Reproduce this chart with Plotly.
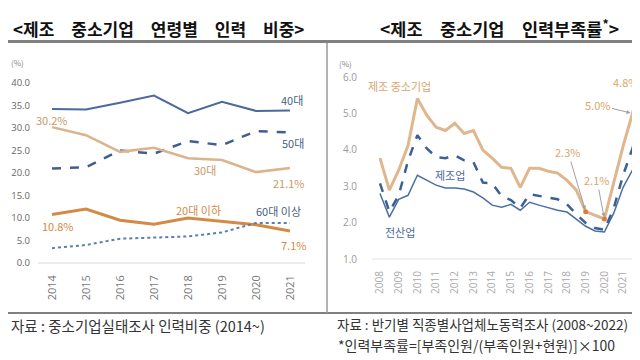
import plotly.graph_objects as go

# ---------------- data: left chart (age shares, %) ----------------
years_left = [2014, 2015, 2016, 2017, 2018, 2019, 2020, 2021]
age_40s = [34.2, 34.1, 35.6, 37.2, 33.3, 35.8, 33.8, 33.9]
age_50s = [21.0, 21.3, 25.0, 24.3, 27.1, 26.2, 29.3, 29.0]
age_30s = [30.2, 28.4, 24.7, 25.6, 23.3, 22.9, 20.2, 21.1]
age_20s = [10.8, 12.0, 9.5, 8.6, 10.0, 9.2, 8.5, 7.1]
age_60s = [3.3, 4.0, 5.4, 5.6, 5.9, 6.8, 8.9, 8.9]
left_yticks = [0, 5, 10, 15, 20, 25, 30, 35, 40]

# ---------------- data: right chart (shortage rate, %) ----------------
halves = ["2008H1", "2008H2", "2009H1", "2009H2", "2010H1", "2010H2", "2011H1", "2011H2",
          "2012H1", "2012H2", "2013H1", "2013H2", "2014H1", "2014H2", "2015H1", "2015H2",
          "2016H1", "2016H2", "2017H1", "2017H2", "2018H1", "2018H2", "2019H1", "2019H2",
          "2020H1", "2020H2", "2021H1", "2021H2", "2022H1"]
sme_mfg = [3.77, 2.89, 3.44, 4.12, 5.41, 4.95, 4.62, 4.53, 4.73, 4.45, 4.53, 3.99, 3.77, 3.52,
           3.49, 2.97, 3.49, 3.49, 3.41, 3.36, 3.16, 2.89, 2.3, 2.2, 2.1, 3.1, 4.1, 5.0, 5.9]
mfg = [3.08, 2.3, 2.75, 3.7, 4.4, 4.04, 3.8, 3.77, 3.85, 3.71, 3.66, 3.1, 3.08, 2.73,
       2.62, 2.4, 2.78, 2.73, 2.7, 2.64, 2.5, 2.23, 1.99, 1.85, 1.8, 2.4, 3.3, 4.04, 4.86]
all_ind = [2.8, 2.15, 2.64, 2.75, 3.3, 3.16, 3.03, 2.95, 2.95, 2.92, 2.84, 2.68, 2.48, 2.42,
           2.5, 2.34, 2.56, 2.48, 2.4, 2.34, 2.29, 2.1, 1.9, 1.77, 1.74, 2.26, 2.97, 3.44, 3.82]
right_years = list(range(2008, 2023))
right_yticks = [1, 2, 3, 4, 5, 6]
marked = ["2019H1", "2020H1"]

xr = [int(h[:4]) + (0.5 if h.endswith("H2") else 0.0) for h in halves]

W, H = 640, 360
OFF = 8  # page body margin offset
def px(x):
    return (x - OFF) / W
def py(y):
    return 1 - (y - OFF) / H

TAN = "#d9b48c"
ORANGE = "#d38a45"
FONT = "Noto Sans CJK KR"

fig = go.Figure()

# left traces
fig.add_trace(go.Scatter(x=years_left, y=age_40s, mode="lines", line=dict(color="#4a6a9c", width=2), xaxis="x", yaxis="y"))
fig.add_trace(go.Scatter(x=years_left, y=age_50s, mode="lines", line=dict(color="#3f5f8f", width=2.5, dash="dash"), xaxis="x", yaxis="y"))
fig.add_trace(go.Scatter(x=years_left, y=age_30s, mode="lines", line=dict(color=TAN, width=2.5), xaxis="x", yaxis="y"))
fig.add_trace(go.Scatter(x=years_left, y=age_20s, mode="lines", line=dict(color=ORANGE, width=3), xaxis="x", yaxis="y"))
fig.add_trace(go.Scatter(x=years_left, y=age_60s, mode="lines", line=dict(color="#5b7db0", width=2, dash="dot"), xaxis="x", yaxis="y"))

# right traces
fig.add_trace(go.Scatter(x=xr, y=all_ind, mode="lines", line=dict(color="#4b6fa3", width=1.5), xaxis="x2", yaxis="y2"))
fig.add_trace(go.Scatter(x=xr, y=mfg, mode="lines", line=dict(color="#3c6096", width=2.5, dash="dash"), xaxis="x2", yaxis="y2"))
fig.add_trace(go.Scatter(x=xr, y=sme_mfg, mode="lines", line=dict(color="#e0b68e", width=3), xaxis="x2", yaxis="y2"))
mi = [halves.index(m) for m in marked]
fig.add_trace(go.Scatter(x=[xr[i] for i in mi], y=[sme_mfg[i] for i in mi], mode="markers",
                         marker=dict(color="#e07a3a", size=5), xaxis="x2", yaxis="y2"))

# axes geometry (pixels in the screenshot)
left_x0, left_x1 = 31, 305
left_top, left_bot = 70, 263
lppu = (left_bot - 83) / 40.0
right_x0, right_x1 = 358, 648
r_top, r_bot = 65, 259
rppu = (r_bot - 77) / 5.0
xppy = 18.7
lx_start = 2014 - (52 - left_x0) / 34.0
rx_start = 2008 - (380 - right_x0) / xppy

fig.update_layout(
    template="none",
    width=W, height=H, autosize=False,
    margin=dict(l=0, r=0, t=0, b=0, pad=0),
    paper_bgcolor="white", plot_bgcolor="white",
    showlegend=False,
    font=dict(family=FONT, color="#333"),
    xaxis=dict(domain=[px(left_x0), px(left_x1)],
               range=[lx_start, lx_start + (left_x1 - left_x0) / 34.0],
               tickmode="array", tickvals=years_left, ticktext=[str(y) for y in years_left],
               tickangle=-90, tickfont=dict(size=11, color="#777", family="Open Sans"),
               showgrid=False, zeroline=False, showline=False,
               ticks="", ticklabelstandoff=9, anchor="y", automargin=False),
    yaxis=dict(domain=[py(left_bot), py(left_top)],
               range=[0, (left_bot - left_top) / lppu],
               tickmode="array", tickvals=left_yticks, ticktext=["%.1f" % v for v in left_yticks],
               tickfont=dict(size=9.5, color="#666", family="Open Sans"),
               showgrid=False, zeroline=False, showline=False, ticks="", anchor="x", automargin=False),
    xaxis2=dict(domain=[px(right_x0), px(right_x1)],
                range=[rx_start, rx_start + (right_x1 - right_x0) / xppy],
                tickmode="array", tickvals=right_years, ticktext=[str(y) for y in right_years],
                tickangle=-90, tickfont=dict(size=10, color="#aaa", family="Open Sans"),
                showgrid=False, zeroline=False, showline=False,
                ticks="", ticklabelstandoff=9, anchor="y2", automargin=False),
    yaxis2=dict(domain=[py(r_bot), py(r_top)],
                range=[1.0, 1.0 + (r_bot - r_top) / rppu],
                tickmode="array", tickvals=right_yticks, ticktext=["%.1f" % v for v in right_yticks],
                tickfont=dict(size=10, color="#999", family="Open Sans"),
                showgrid=False, zeroline=False, showline=False, ticks="", anchor="x2", automargin=False),
)

shapes = [
    dict(type="line", xref="paper", yref="paper", x0=px(0), x1=px(650), y0=py(41.5), y1=py(41.5), line=dict(color="#808080", width=3)),
    dict(type="line", xref="paper", yref="paper", x0=px(0), x1=px(650), y0=py(313), y1=py(313), line=dict(color="#808080", width=2)),
    dict(type="line", xref="paper", yref="paper", x0=px(327), x1=px(327), y0=py(43), y1=py(313), line=dict(color="#999", width=1.5)),
    # axis baselines
    dict(type="line", xref="paper", yref="paper", x0=px(38), x1=px(305), y0=py(left_bot), y1=py(left_bot), line=dict(color="#d9d9d9", width=1)),
    dict(type="line", xref="paper", yref="paper", x0=px(372), x1=px(650), y0=py(r_bot), y1=py(r_bot), line=dict(color="#e3e3e3", width=1)),
]
fig.update_layout(shapes=shapes)

ann = []
def txt(x, y, s, size=11, color="#333", bold=False, xanchor="center", family=FONT):
    ann.append(dict(x=px(x), y=py(y), xref="paper", yref="paper", text=("<b>%s</b>" % s) if bold else s,
                    showarrow=False, xanchor=xanchor, yanchor="middle",
                    font=dict(size=size, color=color, family=family)))

# titles
txt(158, 28, "&lt;제조\u3000중소기업\u3000연령별\u3000인력\u3000비중&gt;", size=17, color="#111", bold=True)
txt(499, 28, "&lt;제조\u3000중소기업\u3000인력부족률<sup>*</sup>&gt;", size=17.5, color="#111", bold=True)

# units
txt(17, 62, "(%)", size=8, color="#888")
txt(345, 63, "(%)", size=8, color="#888")

# left labels
txt(52, 120, "30.2%", size=11, color="#c99a66")
txt(292, 100, "40대", size=11, color="#4a5f80")
txt(293, 143, "50대", size=11, color="#4a5f80")
txt(205, 170, "30대", size=11, color="#c99a66")
txt(289, 183, "21.1%", size=11, color="#c99a66")
txt(198, 210, "20대 이하", size=11, color=ORANGE)
txt(278, 211, "60대 이상", size=11, color="#4a5f80")
txt(293, 245, "7.1%", size=11, color=ORANGE)
txt(58, 226, "10.8%", size=11, color=ORANGE)

# right labels
txt(399, 86, "제조 중소기업", size=11, color="#d9a66e")
txt(450, 175, "제조업", size=11, color="#4a6a9a")
txt(400, 232, "전산업", size=11, color="#4a6a9a")
txt(640, 82, "4.8%", size=11, color="#d9a66e", xanchor="right")

def arrow_to(xd, yd, tx, ty, s):
    pxx = right_x0 + (xd - rx_start) * xppy
    pyy = r_bot - (yd - 1.0) * rppu
    ann.append(dict(x=xd, y=yd, xref="x2", yref="y2", text=s, showarrow=True,
                    ax=tx - pxx, ay=ty - pyy, arrowhead=2, arrowsize=0.8, arrowwidth=1,
                    arrowcolor="#a0a0a0", standoff=2,
                    font=dict(size=11, color="#d9a66e", family=FONT)))

i23 = halves.index("2019H1")
i21 = halves.index("2020H1")
i50 = halves.index("2021H2")
arrow_to(xr[i23], sme_mfg[i23], 568, 152, "2.3%")
arrow_to(xr[i21], sme_mfg[i21], 597, 180, "2.1%")
arrow_to(xr[i50], sme_mfg[i50], 598, 105, "5.0%")

# footers
txt(9, 325, "자료 : 중소기업실태조사 인력비중 (2014~)", size=14.5, color="#333", xanchor="left")
txt(335, 324, "자료 : 반기별 직종별사업체노동력조사 (2008~2022)", size=13.5, color="#333", xanchor="left")
txt(336, 345, "*인력부족률=[부족인원/(부족인원+현원)]×100", size=14, color="#333", xanchor="left")

fig.update_layout(annotations=ann)

fig.write_html("out.html")
